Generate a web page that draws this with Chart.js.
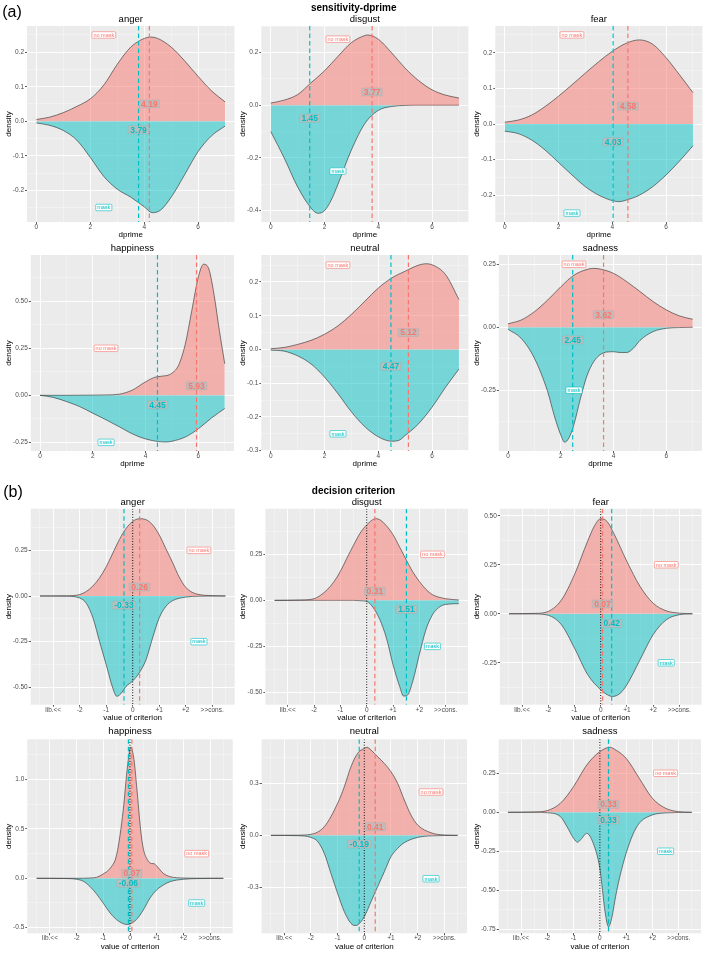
<!DOCTYPE html>
<html><head><meta charset="utf-8">
<script src="https://cdn.jsdelivr.net/npm/chart.js@4.4.0/dist/chart.umd.min.js"></script>
<style>
html,body{margin:0;padding:0;background:#fff;}
body{width:707px;height:955px;position:relative;overflow:hidden;font-family:"Liberation Sans",Arial,Helvetica,sans-serif;}
canvas{position:absolute;}
.t{position:absolute;transform:translate(-50%,-50%);white-space:nowrap;color:#000;line-height:1;}
</style></head><body>
<script>
// ---------------- DATA ----------------
const emotions = ['anger','disgust','fear','happiness','neutral','sadness'];

// d' means per emotion
const dprimeMeanNoMask = [4.19, 3.77, 4.58, 5.93, 5.12, 3.62];
const dprimeMeanMask   = [3.79, 1.45, 4.03, 4.45, 4.47, 2.45];
// criterion means per emotion
const criterionMeanNoMask = [0.26, 0.31, 0.07, 0.07, 0.41, 0.33];
const criterionMeanMask   = [-0.33, 1.51, 0.42, -0.06, -0.19, 0.33];

// x ticks
const dprimeXTicks = [0, 2, 4, 6];
const dprimeXLabels = ['0', '2', '4', '6'];
const criterionXTicks = [-3, -2, -1, 0, 1, 2, 3];
const criterionXLabels = ['lib.<<', '-2', '-1', '0', '+1', '+2', '>>cons.'];

// y ticks per panel
const dprimeYTicks = [[-0.2,-0.1,0,0.1,0.2],[-0.4,-0.2,0,0.2],[-0.2,-0.1,0,0.1,0.2],[-0.25,0,0.25,0.5],[-0.3,-0.2,-0.1,0,0.1,0.2],[-0.25,0,0.25]];
const dprimeYLabels = [['-0.2','-0.1','0.0','0.1','0.2'],['-0.4','-0.2','0.0','0.2'],['-0.2','-0.1','0.0','0.1','0.2'],['-0.25','0.00','0.25','0.50'],['-0.3','-0.2','-0.1','0.0','0.1','0.2'],['-0.25','0.00','0.25']];
const criterionYTicks = [[-0.5,-0.25,0,0.25],[-0.5,-0.25,0,0.25],[-0.25,0,0.25,0.5],[-0.5,0,0.5,1],[-0.3,0,0.3],[-0.75,-0.5,-0.25,0,0.25]];
const criterionYLabels = [['-0.50','-0.25','0.00','0.25'],['-0.50','-0.25','0.00','0.25'],['-0.25','0.00','0.25','0.50'],['-0.5','0.0','0.5','1.0'],['-0.3','0.0','0.3'],['-0.75','-0.50','-0.25','0.00','0.25']];

// y limits per panel
const dprimeYMin = [-0.292, -0.443, -0.275, -0.296, -0.301, -0.491];
const dprimeYMax = [0.276, 0.30, 0.275, 0.746, 0.28, 0.287];
const criterionYMin = [-0.595, -0.567, -0.464, -0.557, -0.565, -0.776];
const criterionYMax = [0.478, 0.498, 0.536, 1.408, 0.554, 0.468];

// density curves [x, density]; mask curves mirrored (negative)
const dprimeAngerNoMask = [[0,0.005],[0.5,0.012],[1,0.025],[1.5,0.043],[2,0.065],[2.5,0.105],[3,0.165],[3.5,0.215],[4,0.24],[4.25,0.244],[4.5,0.24],[5,0.215],[5.5,0.175],[6,0.13],[6.5,0.088],[7,0.056]];
const dprimeAngerMask = [[0,-0.005],[0.5,-0.012],[1,-0.027],[1.5,-0.055],[2,-0.105],[2.5,-0.16],[3,-0.197],[3.5,-0.22],[4,-0.248],[4.3,-0.265],[4.6,-0.258],[5,-0.22],[5.5,-0.155],[6,-0.088],[6.5,-0.042],[7,-0.014]];
const dprimeDisgustNoMask = [[0,0.008],[0.5,0.019],[1,0.04],[1.5,0.085],[2,0.13],[2.5,0.185],[3,0.237],[3.5,0.264],[3.6,0.266],[4,0.25],[4.5,0.198],[5,0.14],[5.5,0.093],[6,0.058],[6.5,0.038],[7,0.027]];
const dprimeDisgustMask = [[0,-0.1],[0.5,-0.2],[1,-0.31],[1.5,-0.39],[1.75,-0.41],[2,-0.4],[2.25,-0.36],[2.5,-0.3],[3,-0.17],[3.5,-0.07],[4,-0.02],[4.5,-0.005],[5,-0.001],[5.5,0],[6,0],[7,0]];
const dprimeFearNoMask = [[0,0.005],[0.5,0.011],[1,0.025],[1.5,0.049],[2,0.078],[2.5,0.11],[3,0.143],[3.5,0.175],[4,0.204],[4.5,0.226],[5,0.236],[5.5,0.224],[6,0.186],[6.5,0.138],[7,0.088]];
const dprimeFearMask = [[0,-0.02],[0.5,-0.027],[1,-0.045],[1.5,-0.073],[2,-0.108],[2.5,-0.143],[3,-0.176],[3.5,-0.2],[4,-0.215],[4.25,-0.218],[4.5,-0.214],[5,-0.2],[5.5,-0.176],[6,-0.143],[6.5,-0.104],[7,-0.061]];
const dprimeHappinessNoMask = [[0,0],[1,0],[2,0.001],[2.5,0.002],[3,0.006],[3.5,0.028],[4,0.072],[4.4,0.098],[4.8,0.105],[5,0.118],[5.25,0.16],[5.5,0.27],[5.75,0.45],[6,0.63],[6.2,0.697],[6.4,0.67],[6.6,0.53],[6.8,0.34],[7,0.168]];
const dprimeHappinessMask = [[0,0],[0.5,-0.011],[1,-0.033],[1.5,-0.06],[2,-0.095],[2.5,-0.13],[3,-0.167],[3.5,-0.205],[4,-0.232],[4.5,-0.246],[4.8,-0.248],[5,-0.244],[5.5,-0.222],[6,-0.178],[6.5,-0.12],[7,-0.07]];
const dprimeNeutralNoMask = [[0,0.002],[0.5,0.006],[1,0.015],[1.5,0.027],[2,0.045],[2.5,0.07],[3,0.104],[3.5,0.143],[4,0.182],[4.5,0.212],[5,0.232],[5.5,0.25],[5.75,0.254],[6,0.251],[6.5,0.222],[7,0.148]];
const dprimeNeutralMask = [[0,-0.002],[0.5,-0.005],[1,-0.019],[1.5,-0.043],[2,-0.082],[2.5,-0.131],[3,-0.185],[3.5,-0.229],[4,-0.259],[4.5,-0.272],[4.75,-0.27],[5,-0.255],[5.5,-0.22],[6,-0.171],[6.5,-0.112],[7,-0.058]];
const dprimeSadnessNoMask = [[0,0.014],[0.5,0.029],[1,0.062],[1.5,0.108],[2,0.161],[2.5,0.207],[3,0.23],[3.25,0.234],[3.5,0.231],[4,0.214],[4.5,0.181],[5,0.142],[5.5,0.102],[6,0.069],[6.5,0.045],[7,0.032]];
const dprimeSadnessMask = [[0,-0.008],[0.5,-0.044],[1,-0.123],[1.5,-0.255],[1.75,-0.35],[2,-0.428],[2.15,-0.456],[2.35,-0.43],[2.5,-0.385],[2.75,-0.28],[3,-0.19],[3.25,-0.136],[3.5,-0.108],[3.75,-0.098],[4,-0.097],[4.25,-0.1],[4.5,-0.1],[4.75,-0.083],[5,-0.052],[5.5,-0.017],[6,-0.004],[6.5,-0.001],[7,0]];

const criterionAngerNoMask = [[-3.5,0],[-2.5,0.001],[-2,0.008],[-1.75,0.025],[-1.5,0.055],[-1.25,0.1],[-1,0.16],[-0.75,0.235],[-0.5,0.31],[-0.25,0.37],[0,0.408],[0.25,0.423],[0.5,0.418],[0.75,0.39],[1,0.335],[1.25,0.26],[1.5,0.185],[1.75,0.105],[2,0.048],[2.25,0.02],[2.5,0.008],[3,0.002],[3.5,0]];
const criterionAngerMask = [[-3.5,0],[-2.5,-0.001],[-2,-0.011],[-1.75,-0.04],[-1.5,-0.12],[-1.25,-0.25],[-1,-0.376],[-0.75,-0.505],[-0.6,-0.549],[-0.45,-0.535],[-0.25,-0.495],[0,-0.465],[0.25,-0.42],[0.5,-0.35],[0.75,-0.23],[1,-0.12],[1.25,-0.057],[1.5,-0.026],[2,-0.006],[2.5,-0.001],[3.5,0]];
const criterionDisgustNoMask = [[-3.5,0],[-2.5,0.002],[-2,0.009],[-1.75,0.028],[-1.5,0.058],[-1.25,0.1],[-1,0.158],[-0.75,0.23],[-0.5,0.3],[-0.25,0.365],[0,0.41],[0.35,0.444],[0.5,0.438],[0.75,0.405],[1,0.357],[1.25,0.29],[1.5,0.221],[1.75,0.155],[2,0.103],[2.25,0.06],[2.5,0.031],[3,0.009],[3.5,0.002]];
const criterionDisgustMask = [[-3.5,0],[-0.5,0],[-0.25,-0.002],[0,-0.006],[0.25,-0.04],[0.5,-0.105],[0.75,-0.205],[1,-0.35],[1.25,-0.467],[1.4,-0.52],[1.55,-0.515],[1.75,-0.44],[2,-0.295],[2.25,-0.16],[2.5,-0.078],[2.75,-0.038],[3,-0.022],[3.5,-0.018]];
const criterionFearNoMask = [[-3.5,0],[-2.5,0.002],[-2,0.012],[-1.5,0.07],[-1,0.2],[-0.5,0.37],[-0.25,0.445],[0,0.485],[0.25,0.47],[0.5,0.41],[1,0.267],[1.5,0.14],[2,0.054],[2.5,0.015],[3,0.003],[3.5,0]];
const criterionFearMask = [[-3.5,0],[-2.5,-0.001],[-2,-0.008],[-1.5,-0.056],[-1,-0.175],[-0.5,-0.31],[0,-0.388],[0.25,-0.413],[0.45,-0.422],[0.75,-0.405],[1,-0.362],[1.5,-0.235],[2,-0.107],[2.5,-0.031],[3,-0.005],[3.5,0]];
const criterionHappinessNoMask = [[-3.5,0],[-2,0],[-1.5,0.003],[-1.25,0.01],[-1,0.045],[-0.75,0.1],[-0.5,0.24],[-0.25,0.7],[-0.1,1.12],[0.03,1.33],[0.15,1.2],[0.25,0.93],[0.4,0.49],[0.5,0.3],[0.65,0.19],[0.8,0.15],[0.9,0.148],[1,0.125],[1.25,0.05],[1.5,0.017],[2,0.003],[2.5,0.001],[3.5,0]];
const criterionHappinessMask = [[-3.5,0],[-2.5,-0.002],[-2,-0.01],[-1.75,-0.03],[-1.5,-0.084],[-1.25,-0.16],[-1,-0.253],[-0.75,-0.35],[-0.5,-0.42],[-0.25,-0.46],[-0.1,-0.468],[0,-0.463],[0.25,-0.415],[0.5,-0.32],[0.75,-0.2],[1,-0.118],[1.25,-0.068],[1.5,-0.034],[2,-0.01],[2.5,-0.003],[3.5,0]];
const criterionNeutralNoMask = [[-3.5,0],[-2.5,0.001],[-2,0.006],[-1.5,0.05],[-1,0.185],[-0.75,0.28],[-0.5,0.396],[-0.25,0.473],[0,0.502],[0.1,0.508],[0.25,0.492],[0.5,0.454],[0.75,0.415],[1,0.367],[1.25,0.3],[1.5,0.204],[1.75,0.117],[2,0.06],[2.5,0.015],[3,0.002],[3.5,0]];
const criterionNeutralMask = [[-3.5,0],[-2.5,-0.002],[-2,-0.012],[-1.75,-0.035],[-1.5,-0.104],[-1.25,-0.22],[-1,-0.335],[-0.75,-0.44],[-0.5,-0.508],[-0.35,-0.52],[-0.25,-0.517],[0,-0.469],[0.25,-0.383],[0.5,-0.296],[0.75,-0.21],[1,-0.123],[1.25,-0.075],[1.5,-0.042],[2,-0.012],[2.5,-0.003],[3.5,0]];
const criterionSadnessNoMask = [[-3.5,0],[-2.5,0.002],[-2,0.011],[-1.5,0.058],[-1,0.165],[-0.5,0.303],[0,0.389],[0.4,0.417],[0.5,0.41],[1,0.346],[1.5,0.218],[2,0.09],[2.5,0.026],[3,0.004],[3.5,0]];
const criterionSadnessMask = [[-3.5,0],[-2.5,0],[-2,-0.003],[-1.5,-0.028],[-1.25,-0.092],[-1,-0.167],[-0.85,-0.192],[-0.7,-0.17],[-0.5,-0.135],[-0.25,-0.2],[0,-0.36],[0.1,-0.5],[0.2,-0.64],[0.33,-0.735],[0.45,-0.68],[0.6,-0.54],[0.75,-0.42],[1,-0.263],[1.25,-0.145],[1.5,-0.07],[2,-0.017],[2.5,-0.004],[3.5,0]];

// ---------------- STYLE / LAYOUT ----------------
const FONT = '"Liberation Sans", Arial, Helvetica, sans-serif';
const RED = '#F8766D', TEAL = '#00BFC4';
Chart.defaults.font.family = FONT;

const dprimeNoMaskCurves = [dprimeAngerNoMask, dprimeDisgustNoMask, dprimeFearNoMask, dprimeHappinessNoMask, dprimeNeutralNoMask, dprimeSadnessNoMask];
const dprimeMaskCurves = [dprimeAngerMask, dprimeDisgustMask, dprimeFearMask, dprimeHappinessMask, dprimeNeutralMask, dprimeSadnessMask];
const criterionNoMaskCurves = [criterionAngerNoMask, criterionDisgustNoMask, criterionFearNoMask, criterionHappinessNoMask, criterionNeutralNoMask, criterionSadnessNoMask];
const criterionMaskCurves = [criterionAngerMask, criterionDisgustMask, criterionFearMask, criterionHappinessMask, criterionNeutralMask, criterionSadnessMask];

const labelYNoMask = [0.05,0.05,0.05,0.05,0.05,0.05];
const dprimeLabelYMask = [-0.025,-0.05,-0.05,-0.05,-0.05,-0.05];
const criterionLabelYMask = [-0.05,-0.05,-0.05,-0.05,-0.05,-0.05];

const rowsGeom = [
  {T:26, B:222, ty:19, L:[27,261.3,495.3], R:[234.5,468.4,702.4]},
  {T:255, B:451, ty:248, L:[30.8,261.3,498.8], R:[234,468.4,702]},
  {T:508.7, B:704.7, ty:502, L:[30.7,265.4,499.8], R:[234.7,468,701.6]},
  {T:739.3, B:933.3, ty:731, L:[27.3,261.6,498.7], R:[232.7,467,701]}
];
const colLeft = [0, 234, 468];

function addText(txt, x, y, css){
  const d = document.createElement('div');
  d.className = 't'; d.textContent = txt;
  d.style.left = x + 'px'; d.style.top = y + 'px';
  d.style.cssText += css;
  document.body.appendChild(d);
}

function makeTicks(majors, min, max){
  const step = majors[1] - majors[0];
  const out = majors.map(v => ({value: v, isMajor: true}));
  for (let k = 0; k <= majors.length; k++){
    const v = +(majors[0] - step/2 + k*step).toFixed(6);
    if (v >= min - 1e-9 && v <= max + 1e-9) out.push({value: v, isMajor: false});
  }
  return out.sort((a,b) => a.value - b.value);
}

const deco = {
  id: 'deco',
  beforeDraw(chart){
    const {ctx, chartArea:a} = chart;
    ctx.save(); ctx.fillStyle = '#EBEBEB';
    ctx.fillRect(a.left, a.top, a.right - a.left, a.bottom - a.top);
    ctx.restore();
  },
  afterDatasetsDraw(chart){
    const o = chart.options.plugins.deco;
    const {ctx, chartArea:a, scales:{x, y}} = chart;
    ctx.save();
    ctx.beginPath(); ctx.rect(a.left, a.top, a.right - a.left, a.bottom - a.top); ctx.clip();
    const vline = (v, color, dash, w) => {
      const px = x.getPixelForValue(v);
      ctx.strokeStyle = color; ctx.setLineDash(dash); ctx.lineWidth = w;
      ctx.beginPath(); ctx.moveTo(px, a.top); ctx.lineTo(px, a.bottom); ctx.stroke();
    };
    if (o.zeroLine) vline(0, '#000', [1, 1.7], 1);
    vline(o.meanNoMask, RED, [4.5, 3], 1.2);
    vline(o.meanMask, TEAL, [4.5, 3], 1.2);
    ctx.setLineDash([]);
    const tag = (text, vx, vy, color) => {
      const px = x.getPixelForValue(vx), py = y.getPixelForValue(vy);
      ctx.font = '5.5px ' + FONT;
      const w = ctx.measureText(text).width + 3, h = 6.5;
      ctx.beginPath(); ctx.roundRect(px - w/2, py - h/2, w, h, 1);
      ctx.fillStyle = '#fff'; ctx.fill();
      ctx.strokeStyle = color; ctx.lineWidth = 0.6; ctx.stroke();
      ctx.fillStyle = color; ctx.textAlign = 'center'; ctx.textBaseline = 'middle';
      ctx.fillText(text, px, py + 0.3);
    };
    tag('no mask', 2.5, 0.25, RED);
    tag('mask', 2.5, -0.25, TEAL);
    const meanLab = (v, vy, color) => {
      const text = v.toFixed(2);
      const px = x.getPixelForValue(v), py = y.getPixelForValue(vy);
      ctx.font = 'bold 8.5px ' + FONT;
      const w = ctx.measureText(text).width + 4, h = 8;
      ctx.beginPath(); ctx.roundRect(px - w/2, py - h/2, w, h, 0.8);
      ctx.fillStyle = 'rgba(188,188,188,0.82)'; ctx.fill();
      ctx.strokeStyle = 'rgba(160,160,160,0.5)'; ctx.lineWidth = 0.5; ctx.stroke();
      ctx.fillStyle = color; ctx.textAlign = 'center'; ctx.textBaseline = 'middle';
      ctx.fillText(text, px, py + 0.5);
    };
    meanLab(o.meanNoMask, o.labYNo, RED);
    meanLab(o.meanMask, o.labYMask, TEAL);
    ctx.restore();
  }
};

function buildPanel(p){
  const g = rowsGeom[p.row];
  const L = g.L[p.col], R = g.R[p.col], T = g.T, B = g.B;
  const cl = colLeft[p.col];
  const XH = 17.8;
  const ct = Math.floor(T - 6);
  const padTop = T - ct;
  const ch = Math.ceil(B + XH - ct);
  const padBottom = ct + ch - (B + XH);
  const cw = Math.ceil(R + 3 - cl);
  const padRight = cl + cw - R;
  const YW = L - cl;

  const c = document.createElement('canvas');
  c.width = cw; c.height = ch;
  c.style.left = cl + 'px'; c.style.top = ct + 'px';
  c.style.width = cw + 'px'; c.style.height = ch + 'px';
  document.body.appendChild(c);

  addText(p.name, (L + R)/2, g.ty, 'font-size:9.5px;');

  const gridOpts = {
    color: ctx => ctx.tick && ctx.tick.isMajor ? '#FFFFFF' : 'rgba(255,255,255,0.75)',
    lineWidth: ctx => ctx.tick && ctx.tick.isMajor ? 0.9 : 0.45,
    tickColor: ctx => ctx.tick && ctx.tick.isMajor ? '#333333' : 'rgba(0,0,0,0)',
    tickWidth: 0.8, tickLength: 2, drawTicks: true
  };
  const xMaj = p.xMajors, xLab = p.xLabels, yMaj = p.yMajors, yLab = p.yLabels;

  new Chart(c, {
    type: 'line',
    data: {datasets: [
      {data: p.noMask.map(([x,y]) => ({x, y})), fill: 'origin', backgroundColor: 'rgba(248,118,109,0.5)',
       borderColor: '#2b2b2b', borderWidth: 0.6, pointRadius: 0, cubicInterpolationMode: 'monotone'},
      {data: p.mask.map(([x,y]) => ({x, y})), fill: 'origin', backgroundColor: 'rgba(0,191,196,0.5)',
       borderColor: '#2b2b2b', borderWidth: 0.6, pointRadius: 0, cubicInterpolationMode: 'monotone'}
    ]},
    options: {
      responsive: false, animation: false, devicePixelRatio: 1,
      events: [],
      layout: {padding: {top: padTop, right: padRight, left: 0, bottom: padBottom}},
      plugins: {legend: {display: false}, tooltip: {enabled: false},
        deco: {zeroLine: p.zeroLine, meanNoMask: p.meanNo, meanMask: p.meanMask, labYNo: p.labYNo, labYMask: p.labYMask}},
      scales: {
        x: {type: 'linear', position: 'bottom', min: p.xMin, max: p.xMax,
          afterBuildTicks: s => { s.ticks = makeTicks(xMaj, p.xMin, p.xMax); },
          afterFit: s => { s.height = XH; },
          ticks: {autoSkip: false, maxRotation: 0, minRotation: 0, padding: 0, color: '#4D4D4D',
            font: {size: 6.5, lineHeight: 1},
            callback: (v, i, ticks) => ticks[i].isMajor ? xLab[xMaj.indexOf(ticks[i].value)] : ''},
          grid: gridOpts, border: {display: false},
          title: {display: true, text: p.xTitle, color: '#000', font: {size: 8}, padding: {top: 0, bottom: 0}}
        },
        y: {type: 'linear', position: 'left', min: p.yMin, max: p.yMax,
          afterBuildTicks: s => { s.ticks = makeTicks(yMaj, p.yMin, p.yMax); },
          afterFit: s => { s.width = YW; },
          ticks: {autoSkip: false, padding: 1, color: '#4D4D4D', font: {size: 6.5, lineHeight: 1},
            callback: (v, i, ticks) => ticks[i].isMajor ? yLab[yMaj.indexOf(ticks[i].value)] : ''},
          grid: gridOpts, border: {display: false},
          title: {display: true, text: 'density', color: '#000', font: {size: 8}, padding: {top: 4.2, bottom: 0}}
        }
      }
    },
    plugins: [deco]
  });
}

emotions.forEach((e, i) => {
  buildPanel({name: e, row: Math.floor(i/3), col: i%3,
    noMask: dprimeNoMaskCurves[i], mask: dprimeMaskCurves[i],
    meanNo: dprimeMeanNoMask[i], meanMask: dprimeMeanMask[i],
    labYNo: labelYNoMask[i], labYMask: dprimeLabelYMask[i],
    xMajors: dprimeXTicks, xLabels: dprimeXLabels, xMin: -0.35, xMax: 7.35, xTitle: 'dprime',
    yMajors: dprimeYTicks[i], yLabels: dprimeYLabels[i], yMin: dprimeYMin[i], yMax: dprimeYMax[i],
    zeroLine: false});
  buildPanel({name: e, row: 2 + Math.floor(i/3), col: i%3,
    noMask: criterionNoMaskCurves[i], mask: criterionMaskCurves[i],
    meanNo: criterionMeanNoMask[i], meanMask: criterionMeanMask[i],
    labYNo: labelYNoMask[i], labYMask: criterionLabelYMask[i],
    xMajors: criterionXTicks, xLabels: criterionXLabels, xMin: -3.85, xMax: 3.85, xTitle: 'value of criterion',
    yMajors: criterionYTicks[i], yLabels: criterionYLabels[i], yMin: criterionYMin[i], yMax: criterionYMax[i],
    zeroLine: true});
});

addText('(a)', 12, 11.7, 'font-size:16px;');
addText('sensitivity-dprime', 353.7, 7.5, 'font-size:10px;font-weight:bold;');
addText('(b)', 13, 491.5, 'font-size:16px;');
addText('decision criterion', 353.5, 490.7, 'font-size:10px;font-weight:bold;');
</script>
</body></html>
